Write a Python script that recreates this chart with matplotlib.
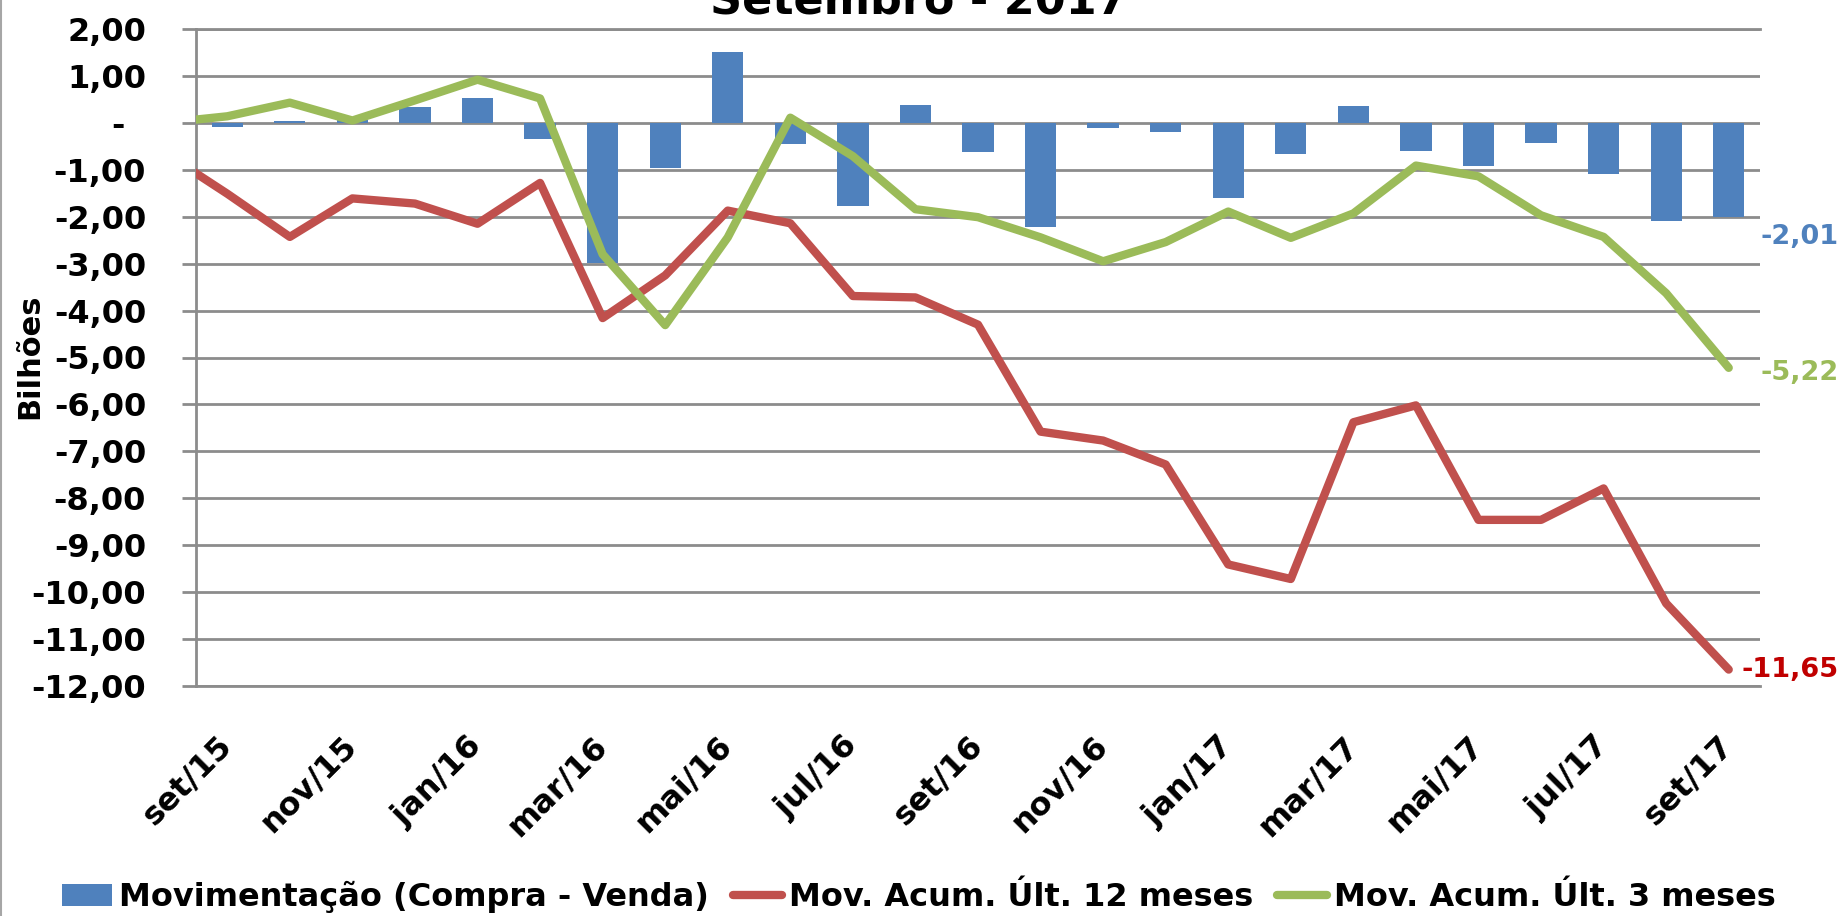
import matplotlib
matplotlib.use("Agg")
import matplotlib.pyplot as plt
import numpy as np
from matplotlib.lines import Line2D
from matplotlib.patches import Patch
from matplotlib.ticker import FuncFormatter

plt.rcParams["font.family"] = ["DejaVu Sans"]
plt.rcParams["font.weight"] = "bold"

months = [
    "set/15", "out/15", "nov/15", "dez/15", "jan/16", "fev/16", "mar/16",
    "abr/16", "mai/16", "jun/16", "jul/16", "ago/16", "set/16", "out/16",
    "nov/16", "dez/16", "jan/17", "fev/17", "mar/17", "abr/17", "mai/17",
    "jun/17", "jul/17", "ago/17", "set/17",
]
movimentacao = [
    -0.08, 0.05, 0.07, 0.33, 0.54, -0.34, -2.99, -0.97, 1.51, -0.44,
    -1.78, 0.37, -0.63, -2.22, -0.10, -0.19, -1.61, -0.66, 0.36, -0.61,
    -0.92, -0.43, -1.10, -2.10, -2.01,
]
acum_12m = [
    -1.51, -2.43, -1.61, -1.72, -2.15, -1.28, -4.16, -3.25, -1.87, -2.14,
    -3.69, -3.72, -4.30, -6.58, -6.77, -7.28, -9.41, -9.72, -6.38, -6.02,
    -8.46, -8.46, -7.79, -10.24, -11.65,
]
acum_3m = [
    0.14, 0.43, 0.05, 0.48, 0.92, 0.52, -2.80, -4.31, -2.44, 0.11,
    -0.71, -1.84, -2.01, -2.44, -2.95, -2.54, -1.89, -2.45, -1.93, -0.91,
    -1.14, -1.97, -2.43, -3.63, -5.22,
]
# ago/15 values: only the segment leading into set/15 shows at the left edge
acum_12m_prev = -0.64
acum_3m_prev = 0.00

BLUE = "#4F81BD"
RED = "#C0504D"
GREEN = "#9BBB59"
GRID = "#8C8C8C"
FS = 23


def br_num(v):
    return f"{v:.2f}".replace(".", ",")


fig = plt.figure(figsize=(18.38, 9.16), dpi=100)
W, H = 1838, 916
left, right, top, bottom = 196, 1760, 29, 686
ax = fig.add_axes([left / W, 1 - bottom / H, (right - left) / W, (bottom - top) / H])

x = np.arange(len(months))
x_line = np.arange(-1, len(months))

ax.bar(x, movimentacao, width=0.5, color=BLUE, zorder=2)
ax.plot(x_line, [acum_12m_prev] + acum_12m, color=RED, lw=6,
        solid_joinstyle="round", solid_capstyle="round", zorder=3)
ax.plot(x_line, [acum_3m_prev] + acum_3m, color=GREEN, lw=6,
        solid_joinstyle="round", solid_capstyle="round", zorder=4)

ax.set_xlim(-0.5, len(months) - 0.5)
ax.set_ylim(-12, 2)

ax.set_yticks(np.arange(-12, 3, 1))
ax.yaxis.set_major_formatter(FuncFormatter(lambda v, p: "" if abs(v) < 1e-9 else br_num(v)))
# accounting format shows zero as a dash, set left of the digit column
ax.text(-0.0454, 0, "-", transform=ax.get_yaxis_transform(), ha="right",
        va="center_baseline", fontsize=FS, fontweight="bold")
ax.tick_params(axis="y", direction="out", length=10, width=2, color=GRID,
               pad=26, labelsize=FS)

ax.set_xticks(x[::2])
ax.set_xticklabels(months[::2], rotation=45, ha="right", va="center",
                   rotation_mode="anchor", fontsize=FS)
ax.tick_params(axis="x", length=0, pad=40)

ax.grid(axis="y", color=GRID, lw=2, zorder=0)
ax.set_axisbelow(True)
for side in ("left", "top", "bottom"):
    ax.spines[side].set_color(GRID)
    ax.spines[side].set_linewidth(2)
ax.spines["right"].set_visible(False)

# end-of-series labels
lab_fs = 19.5
ax.annotate(br_num(movimentacao[-1]), xy=(x[-1], movimentacao[-1]), xytext=(23, -14),
            textcoords="offset points", ha="left", va="center", color=BLUE,
            fontsize=lab_fs, annotation_clip=False)
ax.annotate(br_num(acum_3m[-1]), xy=(x[-1], acum_3m[-1]), xytext=(23, -4),
            textcoords="offset points", ha="left", va="center", color=GREEN,
            fontsize=lab_fs, annotation_clip=False)
ax.annotate(br_num(acum_12m[-1]), xy=(x[-1], acum_12m[-1]), xytext=(9, 0),
            textcoords="offset points", ha="left", va="center", color="#C00000",
            fontsize=lab_fs, annotation_clip=False)

fig.text(30 / W, 1 - 356 / H, "Bilhões", rotation=90, ha="center", va="center",
         fontsize=22, fontweight="bold")
fig.text(0.5, 1 - 14 / H, "Setembro - 2017", ha="center", va="baseline",
         fontsize=32, fontweight="bold")

handles = [
    Patch(facecolor=BLUE),
    Line2D([], [], color=RED, lw=6, solid_capstyle="round"),
    Line2D([], [], color=GREEN, lw=6, solid_capstyle="round"),
]
labels = ["Movimentação (Compra - Venda)", "Mov. Acum. Últ. 12 meses",
          "Mov. Acum. Últ. 3 meses"]
fig.legend(handles, labels, loc="center", bbox_to_anchor=(0.5, 1 - 897 / H),
           ncol=3, frameon=False, fontsize=FS, handlelength=1.55,
           handleheight=0.72, handletextpad=0.22, columnspacing=0.75,
           borderpad=0, borderaxespad=0)

fig.add_artist(Line2D([0.0008, 0.0008], [0, 1], color="#A6A6A6", lw=1.5))

fig.savefig("out.png", dpi=100)
